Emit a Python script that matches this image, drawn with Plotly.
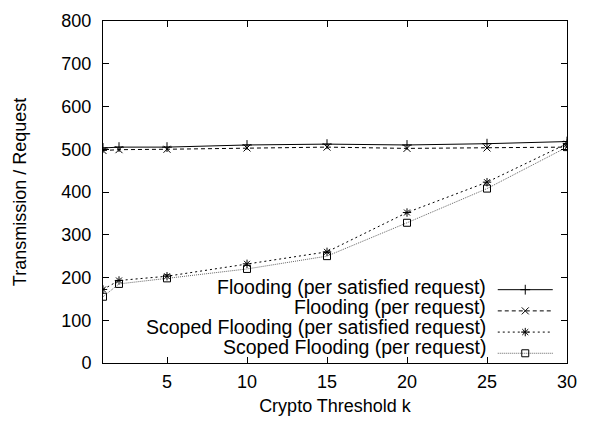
import plotly.graph_objects as go

k_values = [1, 2, 5, 10, 15, 20, 25, 30]
flood_satisfied = [503, 505, 505, 510, 512, 510, 513, 518]
flood_request = [497, 499, 500, 503, 505, 502, 503, 505]
scoped_satisfied = [172, 193, 203, 232, 260, 352, 423, 513]
scoped_request = [155, 185, 198, 220, 250, 328, 408, 505]

series_names = [
    "Flooding (per satisfied request)",
    "Flooding (per request)",
    "Scoped Flooding (per satisfied request)",
    "Scoped Flooding (per request)",
]
x_ticks = [5, 10, 15, 20, 25, 30]
y_ticks = [0, 100, 200, 300, 400, 500, 600, 700, 800]

FONT = "Liberation Sans, Arial, sans-serif"

styles = [
    dict(color="#000000", dash="solid", symbol="cross-thin-open", mcolor="#000000"),
    dict(color="#000000", dash="4px,3px", symbol="x-thin-open", mcolor="#000000"),
    dict(color="#000000", dash="2px,3px", symbol="asterisk-open", mcolor="#000000"),
    dict(color="#666666", dash="1px,1px", symbol="square-open", mcolor="#000000"),
]
data = [flood_satisfied, flood_request, scoped_satisfied, scoped_request]

fig = go.Figure()
for name, ys, st in zip(series_names, data, styles):
    fig.add_trace(go.Scatter(
        x=k_values, y=ys, mode="lines+markers", name="",
        line=dict(color=st["color"], width=1, dash=st["dash"]),
        marker=dict(symbol=st["symbol"], size=7, color=st["mcolor"],
                    line=dict(color=st["mcolor"], width=1)),
        showlegend=True,
    ))

# legend labels (right-aligned text, gnuplot style)
label_y = [0.222, 0.164, 0.105, 0.047]
for name, yy in zip(series_names, label_y):
    fig.add_annotation(text=name, xref="paper", yref="paper", x=0.83, y=yy,
                       xanchor="right", yanchor="middle", showarrow=False,
                       font=dict(family=FONT, size=19.5, color="#000000"))

axis_common = dict(
    showline=True, linecolor="#000000", linewidth=1, mirror="ticks",
    ticks="inside", ticklen=6, tickcolor="#000000", showgrid=False,
    zeroline=False, tickfont=dict(family=FONT, size=18, color="#000000"),
)

fig.update_layout(
    width=598, height=429,
    margin=dict(l=103, r=31, t=21, b=66),
    paper_bgcolor="white", plot_bgcolor="white",
    font=dict(family=FONT, size=18, color="#000000"),
    xaxis=dict(range=[1, 30], tickvals=x_ticks, ticklabelstandoff=2,
               title=dict(text="Crypto Threshold k", font=dict(family=FONT, size=18), standoff=8),
               **axis_common),
    yaxis=dict(range=[0, 800], tickvals=y_ticks, ticklabelstandoff=7,
               title=dict(text="Transmission / Request", font=dict(family=FONT, size=18), standoff=30),
               **axis_common),
    legend=dict(x=0.84, y=0.26, xanchor="left", yanchor="top",
                bgcolor="rgba(0,0,0,0)", font=dict(size=14),
                itemwidth=55, tracegroupgap=0),
)

fig.write_html("out.html")
